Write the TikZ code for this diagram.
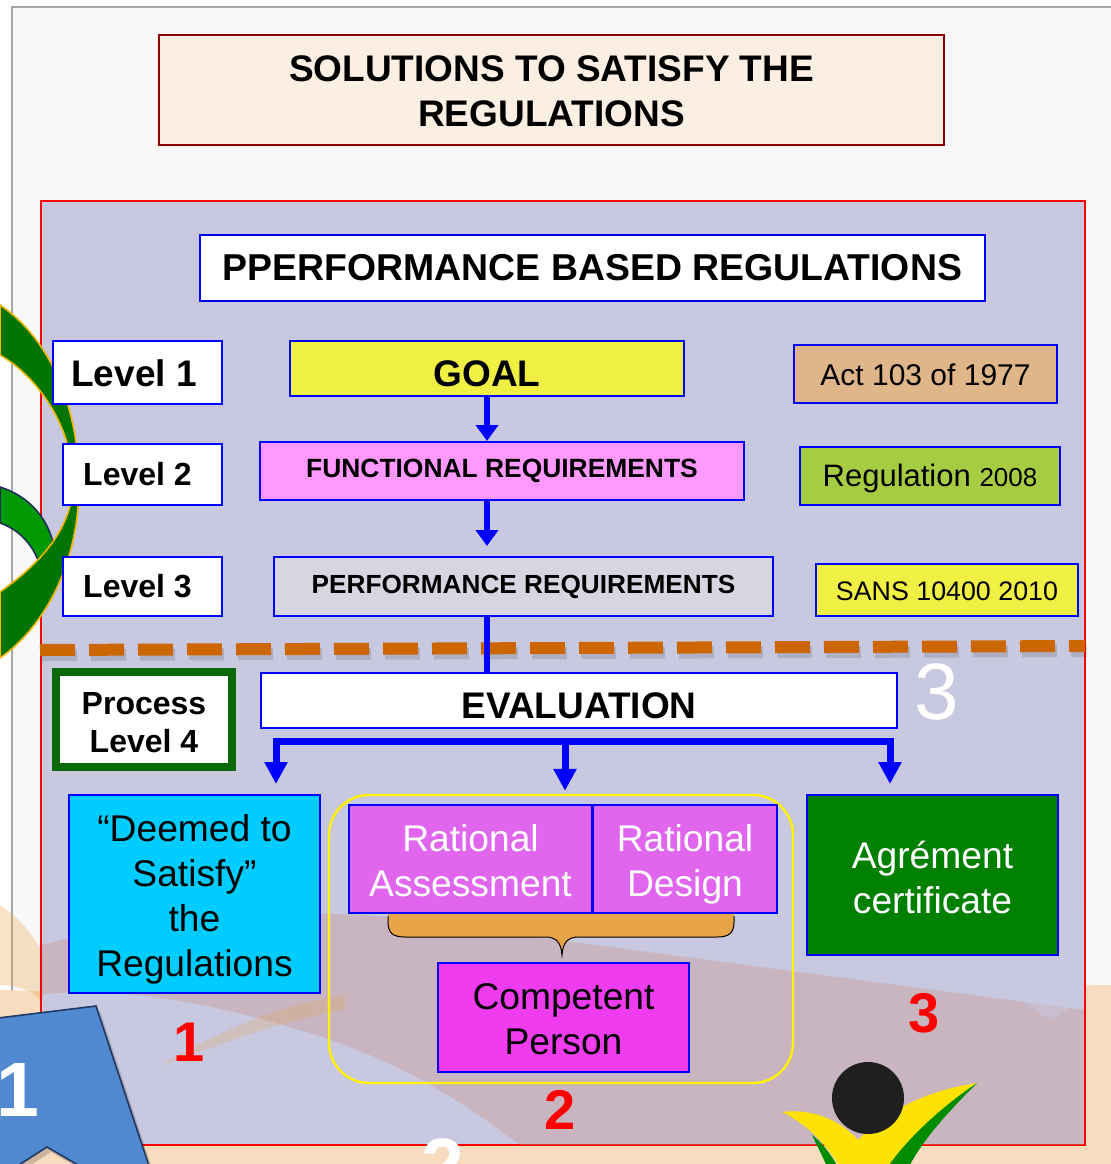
\documentclass[tikz,border=0pt]{standalone}
\usepackage{fontspec}
\setmainfont{Liberation Sans}
\usetikzlibrary{arrows.meta,calc}

\definecolor{pagebg}{HTML}{F8F8F8}
\definecolor{lav}{HTML}{C8C8E0}
\definecolor{titlefill}{HTML}{FBEEE3}
\definecolor{titledraw}{HTML}{8E0000}
\definecolor{goalY}{HTML}{F0F044}
\definecolor{funcP}{HTML}{FF99FF}
\definecolor{perfG}{HTML}{D6D6E0}
\definecolor{actT}{HTML}{DEB68A}
\definecolor{regG}{HTML}{A6CC44}
\definecolor{procG}{HTML}{0A6A0A}
\definecolor{cyanB}{HTML}{00CCFF}
\definecolor{ratM}{HTML}{E066EE}
\definecolor{compM}{HTML}{EE3CEE}
\definecolor{agrG}{HTML}{008000}
\definecolor{dashO}{HTML}{CC6600}
\definecolor{braceO}{HTML}{E8A448}
\definecolor{chevB}{HTML}{5089D0}
\definecolor{chevE}{HTML}{1F3864}
\definecolor{ribA}{HTML}{007400}
\definecolor{ribB}{HTML}{009A00}
\definecolor{ribEdge}{HTML}{F2B600}
\definecolor{ribBEdge}{HTML}{1F2D5A}
\definecolor{peach}{HTML}{F8DCC0}
\definecolor{swoosh}{HTML}{C8907C}

% box from two corners (pixel units): name, x1, y1, x2, y2,
% box style, text style, text, downward text offset
\newcommand\bx[9]{%
  \pgfmathsetmacro\bxcx{(#2+#4)/2}\pgfmathsetmacro\bxcy{(#3+#5)/2}%
  \pgfmathsetmacro\bxty{(#3+#5)/2+#9}%
  \pgfmathsetmacro\bxw{(#4-#2)*0.5}\pgfmathsetmacro\bxh{(#5-#3)*0.5}%
  \node[#6, minimum width=\bxw pt, minimum height=\bxh pt] (#1) at (\bxcx,\bxcy) {};%
  \node[txt, #7] (#1-text) at (\bxcx,\bxty) {#8};}

\newcommand\fsz[2]{\fontsize{#1}{#2}\selectfont}

\begin{document}
\begin{tikzpicture}[x=0.5pt,y=-0.5pt,
  txt/.style={inner sep=0pt, align=center},
  bx/.style={inner sep=0pt, draw=blue, line width=1pt},
  thinbx/.style={bx, line width=0.7pt},
  big/.style={font=\fsz{18.6}{22.5}},
  lvl/.style={bx, fill=white},
  lvltxt/.style={font=\fsz{16}{19}\bfseries, xshift=-2.5pt},
  arrA/.style={draw=blue, line width=3pt, -{Triangle[length=8pt,width=11pt]}},
  arrB/.style={draw=blue, line width=3.5pt, -{Triangle[length=11pt,width=11pt]}},
  stemln/.style={draw=blue, line width=3pt},
  barln/.style={draw=blue, line width=3.5pt, line cap=rect},
  rednum/.style={text=red, font=\fsz{28}{30}\bfseries},
  dashln/.style={line width=6pt, dash pattern=on 17.5pt off 7pt},
]
\clip (0,0) rectangle (1111,1164);

% slide page
\fill[white] (0,0) rectangle (1111,1164);
\filldraw[fill=pagebg, draw=gray!70, line width=0.6pt] (12,7) rectangle (1130,1190);

% warm background tones at the bottom of the slide
\fill[peach] (0,990) .. controls (300,1000) and (700,990) .. (1111,985) -- (1111,1164) -- (0,1164) -- cycle;
\fill[braceO, opacity=0.3] (0,905) .. controls (15,915) and (30,930) .. (41,950) -- (41,1000) .. controls (30,990) and (15,985) .. (0,985) -- cycle;

% main red frame
\filldraw[fill=lav, draw=red, line width=1.3pt] (41,201) rectangle (1085,1145);
\begin{scope}
\clip (42,202) rectangle (1084,1144);
\fill[swoosh, opacity=0.33] (41,945) .. controls (200,905) and (380,905) .. (520,935)
  -- (1085,1010) -- (1085,1145) -- (520,1145)
  .. controls (460,1100) and (400,1060) .. (300,1030)
  .. controls (200,1000) and (110,985) .. (41,995) -- cycle;
\fill[lav, opacity=0.5] (880,905) -- (1085,905) -- (1085,1000) -- (1050,1020) -- cycle;
\fill[braceO, opacity=0.22] (160,1066) .. controls (220,1030) and (280,1005) .. (345,995) -- (345,1010) .. controls (280,1020) and (220,1045) .. (160,1066) -- cycle;
\end{scope}

% green ribbon on the left edge
\filldraw[fill=ribB, draw=ribBEdge, line width=0.8pt]
  (0,487) .. controls (35,498) and (55,528) .. (55,560)
  .. controls (55,600) and (32,635) .. (0,656) -- (0,625)
  .. controls (25,600) and (40,575) .. (38,560)
  .. controls (30,540) and (15,528) .. (0,523) -- cycle;
\filldraw[fill=ribA, draw=ribEdge, line width=0.8pt]
  (0,305) .. controls (52,340) and (79,410) .. (79,485)
  .. controls (79,560) and (47,625) .. (0,658) -- (0,592)
  .. controls (45,560) and (73,525) .. (73,482)
  .. controls (73,430) and (40,378) .. (0,355) -- cycle;

% title
\bx{title}{159}{35}{944}{145}{draw=titledraw, line width=1.2pt, fill=titlefill}{font=\fsz{18.5}{22.5}\bfseries}{SOLUTIONS TO SATISFY THE\\REGULATIONS}{1}

% performance based regulations heading
\bx{pbr}{200}{235}{985}{301}{bx, fill=white}{font=\fsz{18.7}{22}\bfseries}{PPERFORMANCE BASED REGULATIONS}{0}

% levels
\bx{lvl1}{53}{341}{222}{404}{lvl}{font=\fsz{18.5}{22}\bfseries, xshift=-1.75pt}{Level 1}{1}
\bx{lvl2}{63}{444}{222}{505}{lvl}{lvltxt}{Level 2}{0}
\bx{lvl3}{63}{557}{222}{616}{lvl}{lvltxt}{Level 3}{0}

% regulation chain
\bx{goal}{290}{341}{684}{396}{bx, fill=goalY}{font=\fsz{18.5}{22}\bfseries}{GOAL}{5}
\bx{func}{260}{442}{744}{500}{bx, fill=funcP}{font=\fsz{13.2}{16}\bfseries}{FUNCTIONAL REQUIREMENTS}{0}
\bx{perf}{274}{557}{773}{616}{bx, fill=perfG}{font=\fsz{13.1}{16}\bfseries}{PERFORMANCE REQUIREMENTS}{0}

% legal instruments
\bx{act}{794}{345}{1057}{403}{thinbx, fill=actT}{font=\fsz{15}{18}}{Act 103 of 1977}{1}
\bx{reg}{800}{447}{1060}{505}{thinbx, fill=regG}{font=\fsz{15.5}{18}}{Regulation {\fsz{13}{15}2008}}{2}
\bx{sans}{816}{564}{1078}{616}{thinbx, fill=goalY}{font=\fsz{13.4}{16}}{SANS 10400 2010}{1}

% dashed divider with its soft shadow
\draw[dashln, black, opacity=0.12] (42,655) -- (1087,651);
\draw[dashln, dashO] (40,650) -- (1085,646);

% process level 4
\bx{proc}{56}{672}{232}{767}{inner sep=0pt, draw=procG, line width=4pt, fill=white}{font=\fsz{16}{19}\bfseries}{Process\\Level 4}{3}

% evaluation
\bx{eval}{261}{673}{897}{728}{bx, fill=white}{font=\fsz{18.5}{22}\bfseries}{EVALUATION}{5}
\node[text=white, font=\fsz{40}{44}] (three) at (937,692) {3};

% connectors of the chain
\draw[arrA] (goal.south) -- (goal.south |- func.north);
\draw[arrA, shorten >=5pt] (goal.south |- func.south) -- (goal.south |- perf.north);
\draw[stemln] (goal.south |- perf.south) -- (goal.south |- eval.north);

% outcomes
\bx{deemed}{69}{795}{320}{993}{bx, fill=cyanB}{big}{“Deemed to\\Satisfy”\\the\\Regulations}{5}
\bx{grp}{329}{795}{793}{1083}{inner sep=0pt, draw=yellow, line width=1.2pt, rounded corners=20pt}{}{}{0}
\bx{agr}{807}{795}{1058}{955}{bx, fill=agrG}{big, text=white}{Agrément\\certificate}{2}

% brace joining the two rational routes
\fill[braceO] (388,910) -- (388,922) .. controls (388,933) and (393,937) .. (405,937)
  -- (545,937) .. controls (556,937) and (561,942) .. (562,955)
  .. controls (563,942) and (568,937) .. (579,937) -- (717,937)
  .. controls (729,937) and (734,933) .. (734,922) -- (734,910) -- cycle;
\draw[black, line width=0.5pt] (388,916) -- (388,922) .. controls (388,933) and (393,937) .. (405,937)
  -- (545,937) .. controls (556,937) and (561,942) .. (562,955)
  .. controls (563,942) and (568,937) .. (579,937) -- (717,937)
  .. controls (729,937) and (734,933) .. (734,922) -- (734,916);

\bx{ra}{349}{805}{592}{913}{thinbx, fill=ratM}{big, text=white}{Rational\\Assessment}{2}
\bx{rd}{593}{805}{777}{913}{thinbx, fill=ratM}{big, text=white}{Rational\\Design}{5}
\bx{cp}{438}{963}{689}{1072}{thinbx, fill=compM}{big}{Competent\\Person}{2}

% evaluation branches
\coordinate (brL) at (276,741);
\coordinate (brM) at (565,741);
\coordinate (brR) at (890,741);
\draw[barln] (brL) -- (brR);
\draw[arrB, shorten >=5pt] (brL) -- (brL |- deemed.north);
\draw[arrB, shorten >=1.5pt] (brM) -- (brM |- grp.north);
\draw[arrB, shorten >=5pt] (brR) -- (brR |- agr.north);

% route numbers
\node[rednum] (n1) at (189,1042) {1};
\node[rednum] (n2) at (560,1110) {2};
\node[rednum] (n3) at (924,1013) {3};

% blue chevron in the lower left corner
\fill[black, opacity=0.18] (-6,1024) -- (100,1011) -- (156,1180) -- (94,1177) -- (51,1152) -- (12,1177) -- (-6,1177) -- cycle;
\filldraw[fill=chevB, draw=chevE, line width=0.8pt]
  (-10,1019) -- (96,1006) -- (152,1175) -- (90,1172) -- (47,1147) -- (8,1172) -- (-10,1172) -- cycle;
\node[text=white, font=\fsz{38.5}{42}\bfseries] (c1) at (18,1090) {1};
\node[text=white, font=\fsz{38.5}{42}\bfseries] (c2) at (443,1166) {2};

% person emblem in the lower right corner
\fill[yellow!85!orange] (782,1112) .. controls (815,1108) and (842,1122) .. (858,1140)
  .. controls (890,1108) and (930,1090) .. (977,1083)
  .. controls (940,1112) and (905,1140) .. (885,1175) -- (845,1175)
  .. controls (828,1145) and (808,1125) .. (782,1112) -- cycle;
\fill[green!55!black] (977,1083) .. controls (945,1115) and (918,1145) .. (905,1175) -- (882,1175)
  .. controls (905,1140) and (940,1108) .. (977,1083) -- cycle;
\fill[green!55!black] (812,1135) .. controls (825,1145) and (835,1160) .. (842,1175) -- (830,1175) .. controls (825,1160) and (818,1148) .. (812,1135) -- cycle;
\fill[black!88] (868,1098) circle[radius=36];
\end{tikzpicture}
\end{document}
